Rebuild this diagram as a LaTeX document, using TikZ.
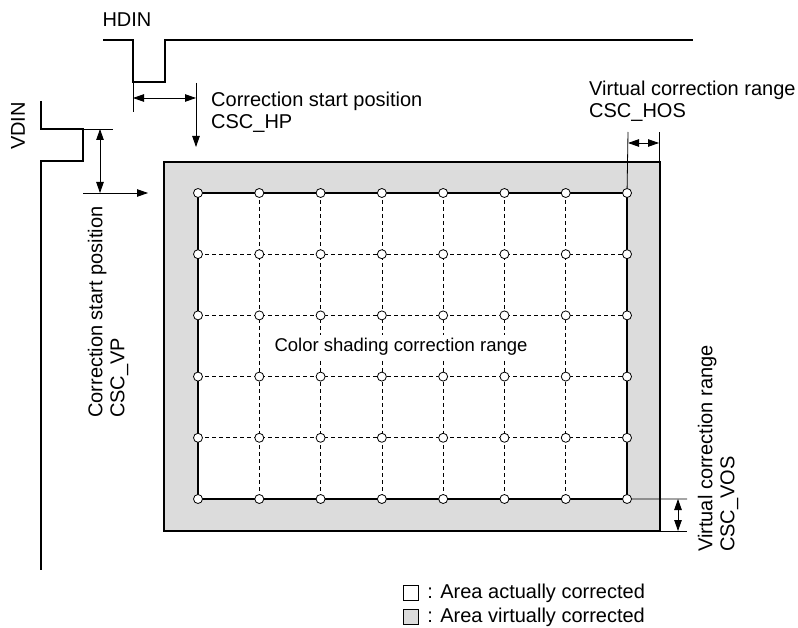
\documentclass[tikz,border=0pt]{standalone}
\usepackage{fontspec}
\setmainfont{Liberation Sans}
\usetikzlibrary{arrows.meta}
\usetikzlibrary{positioning}
\usetikzlibrary{calc}

\definecolor{virtgray}{RGB}{220,220,220}

\begin{document}
\begin{tikzpicture}[x=1pt, y=-1pt, font=\fontsize{20}{22}\selectfont,
    every node/.style={inner sep=0pt},
    >={Triangle[length=11pt, width=7.5pt]},
    wave/.style={line width=1.8pt},
    thinline/.style={line width=0.8pt},
    dimarrow/.style={line width=0.8pt, <->},
    gridline/.style={line width=0.7pt, dash pattern=on 4pt off 3pt},
    dot/.style={circle, draw, fill=white, line width=0.8pt, minimum size=9pt},
    legendbox/.style={draw, line width=1.4pt, minimum width=15pt, minimum height=15pt}]

        \useasboundingbox (0,0) rectangle (798,628);

        \def\nx{8} % grid columns
        \def\ny{6} % grid rows
        \def\gx{61.29} % column pitch
        \def\gy{61.2} % row pitch

        % sync signals
        \node (hdin) at (127,20) {HDIN};
        \node[rotate=90] (vdin) at (18,126) {VDIN};

        \draw[wave] (103,40) -- (133,40) -- (133,82) -- (165,82) -- (165,40) -- (693,40);
        \draw[wave] (41,101) -- (41,129) -- (83,129) -- (83,161) -- (41,161) -- (41,570);

        % correction ranges
        \coordinate (outer-nw) at (164,162);
        \coordinate (outer-se) at (660,531);
        \draw[line width=1.4pt, fill=virtgray] (outer-nw) rectangle (outer-se);

        \foreach \i in {1,...,\nx} {
          \foreach \j in {1,...,\ny} {
            \coordinate (g-\i-\j) at ({198+(\i-1)*\gx}, {193+(\j-1)*\gy});
          }
        }

        \draw[wave, fill=white] (g-1-1) rectangle (g-8-6);

        \foreach \i in {2,...,7} {
          \draw[gridline] (g-\i-1) -- (g-\i-6);
        }
        \foreach \j in {2,...,5} {
          \draw[gridline] (g-1-\j) -- (g-8-\j);
        }

        \foreach \i in {1,...,\nx} {
          \foreach \j in {1,...,\ny} {
            \node[dot] (p-\i-\j) at (g-\i-\j) {};
          }
        }

        \node[fill=white, inner sep=3pt, font=\fontsize{18.5}{22}\selectfont] (range) at (401,347) {Color shading correction range};

        % CSC_HP
        \coordinate (hp-tick) at (133,112);
        \coordinate (hp-a) at (133,98);
        \coordinate (hp-b) at (196,98);
        \coordinate (hp-top) at (196,83);
        \coordinate (hp-tip) at (196,147);
        \draw[thinline] (133,82) -- (hp-tick);
        \draw[dimarrow] (hp-a) -- (hp-b);
        \draw[thinline, ->] (hp-top) -- (hp-tip);
        \node[anchor=west, align=left] (hp-label) at (211,112) {Correction start position\\CSC\_HP};

        % CSC_VP
        \coordinate (vp-tick) at (113,129);
        \coordinate (vp-a) at (100,129);
        \coordinate (vp-b) at (100,193);
        \coordinate (vp-left) at (83,193);
        \coordinate (vp-tip) at (148,193);
        \draw[thinline] (83,129) -- (vp-tick);
        \draw[dimarrow] (vp-a) -- (vp-b);
        \draw[thinline, ->] (vp-left) -- (vp-tip);
        \node[rotate=90, anchor=west, align=left] (vp-label) at (108,418) {Correction start position\\CSC\_VP};

        % CSC_HOS
        \coordinate (hos-a) at (628,132);
        \coordinate (hos-b) at (659,132);
        \draw[thinline] (p-8-1) -- (hos-a);
        \draw[thinline] (659,162) -- (hos-b);
        \draw[dimarrow] (628,143) -- (659,143);
        \node[anchor=west, align=left] (hos-label) at (589,101) {Virtual correction range\\CSC\_HOS};

        % CSC_VOS
        \coordinate (vos-a) at (687,499);
        \coordinate (vos-b) at (687,531);
        \draw[thinline] (p-8-6) -- (vos-a);
        \draw[thinline] (outer-se) -- (vos-b);
        \draw[dimarrow] (678,499) -- (678,531);
        \node[rotate=90, anchor=west, align=left] (vos-label) at (718,552) {Virtual correction range\\CSC\_VOS};

        % legend
        \node[legendbox, fill=white] (key-real) at (411,593) {};
        \node[legendbox, fill=virtgray] (key-virt) at (411,617) {};
        \node[anchor=west, right=8pt of key-real] {: Area actually corrected};
        \node[anchor=west, right=8pt of key-virt] {: Area virtually corrected};

      \end{tikzpicture}
\end{document}
